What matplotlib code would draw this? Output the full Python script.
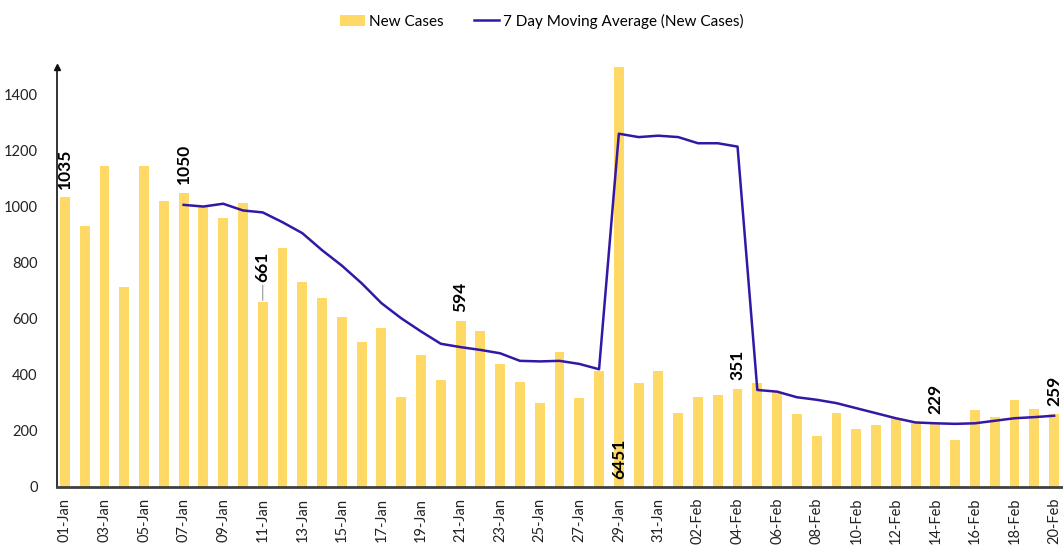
import matplotlib.pyplot as plt
import numpy as np

# dates shown on the x axis (one bar per day)
days = ["01-Jan", "02-Jan", "03-Jan", "04-Jan", "05-Jan", "06-Jan", "07-Jan", "08-Jan",
        "09-Jan", "10-Jan", "11-Jan", "12-Jan", "13-Jan", "14-Jan", "15-Jan", "16-Jan",
        "17-Jan", "18-Jan", "19-Jan", "20-Jan", "21-Jan", "22-Jan", "23-Jan", "24-Jan",
        "25-Jan", "26-Jan", "27-Jan", "28-Jan", "29-Jan", "30-Jan", "31-Jan", "01-Feb",
        "02-Feb", "03-Feb", "04-Feb", "05-Feb", "06-Feb", "07-Feb", "08-Feb", "09-Feb",
        "10-Feb", "11-Feb", "12-Feb", "13-Feb", "14-Feb", "15-Feb", "16-Feb", "17-Feb",
        "18-Feb", "19-Feb", "20-Feb"]

new_cases = [1035, 932, 1146, 715, 1146, 1021, 1050, 1000,
             960, 1015, 661, 852, 731, 673, 608, 519,
             566, 320, 471, 382, 594, 558, 439, 376,
             299, 481, 317, 415, 6451, 370, 412, 263,
             320, 328, 351, 370, 340, 259, 183, 263,
             206, 221, 245, 233, 229, 168, 275, 251,
             311, 277, 259]

moving_avg = [np.nan] * 6 + [1007, 1001, 1011, 987, 980, 945, 906, 845, 790, 727,
                             656, 602, 555, 511, 499, 489, 477, 450, 448, 450,
                             439, 420, 1261, 1249, 1254, 1249, 1227, 1227, 1215, 346,
                             340, 320, 311, 299, 281, 263, 245, 230, 227, 225,
                             227, 236, 245, 249, 254]

labelled = ["01-Jan", "07-Jan", "11-Jan", "21-Jan", "29-Jan", "04-Feb", "14-Feb", "20-Feb"]

bar_color = "#FFD966"
line_color = "#3318A6"

plt.rcParams["font.family"] = ["Lato", "DejaVu Sans"]

fig = plt.figure(figsize=(10.63, 5.52), dpi=100)
ax = fig.add_axes([0.0536, 0.118, 0.9464, 0.761])

x = np.arange(len(days))
bars = ax.bar(x, new_cases, width=0.5, color=bar_color, label="New Cases", zorder=2)
line, = ax.plot(x, moving_avg, color=line_color, lw=1.8,
                label="7 Day Moving Average (New Cases)", zorder=3)

ax.set_ylim(0, 1500)
ax.set_xlim(-0.4, len(days) - 0.55)
ax.set_yticks(range(0, 1401, 200))
ax.set_xticks(x[::2])
ax.set_xticklabels(days[::2], rotation=90)
ax.tick_params(length=0, labelsize=10.5, colors="#222222")
ax.tick_params(axis="y", pad=14)
ax.tick_params(axis="x", pad=8)

for side in ["top", "right"]:
    ax.spines[side].set_visible(False)
ax.spines["left"].set_color("#111111")
ax.spines["left"].set_linewidth(1.2)
ax.spines["bottom"].set_color("#404040")
ax.spines["bottom"].set_linewidth(2)
# arrow head on top of the y axis
ax.plot(0, 1.0, marker="^", color="#111111", markersize=5, transform=ax.transAxes, clip_on=False)

# rotated value labels
for d in labelled:
    i = days.index(d)
    v = new_cases[i]
    if v > 1500:
        ax.annotate(str(v), (i, 0), xytext=(0, 6), textcoords="offset points",
                    rotation=90, ha="center", va="bottom", fontsize=12.5, fontweight="bold")
    elif d == "11-Jan":
        ax.annotate(str(v), (i, v), xytext=(0, 14), textcoords="offset points",
                    rotation=90, ha="center", va="bottom", fontsize=12.5, fontweight="bold",
                    arrowprops=dict(arrowstyle="-", color="#999999", lw=0.8, shrinkA=0, shrinkB=1))
    else:
        ax.annotate(str(v), (i, v), xytext=(0, 6), textcoords="offset points",
                    rotation=90, ha="center", va="bottom", fontsize=12.5, fontweight="bold")

fig.legend(handles=[bars, line], loc="upper center", bbox_to_anchor=(0.51, 1.0), ncol=2,
           frameon=False, fontsize=11, handlelength=1.6, columnspacing=2.0, handletextpad=0.3)

fig.savefig("out.png", dpi=100)
